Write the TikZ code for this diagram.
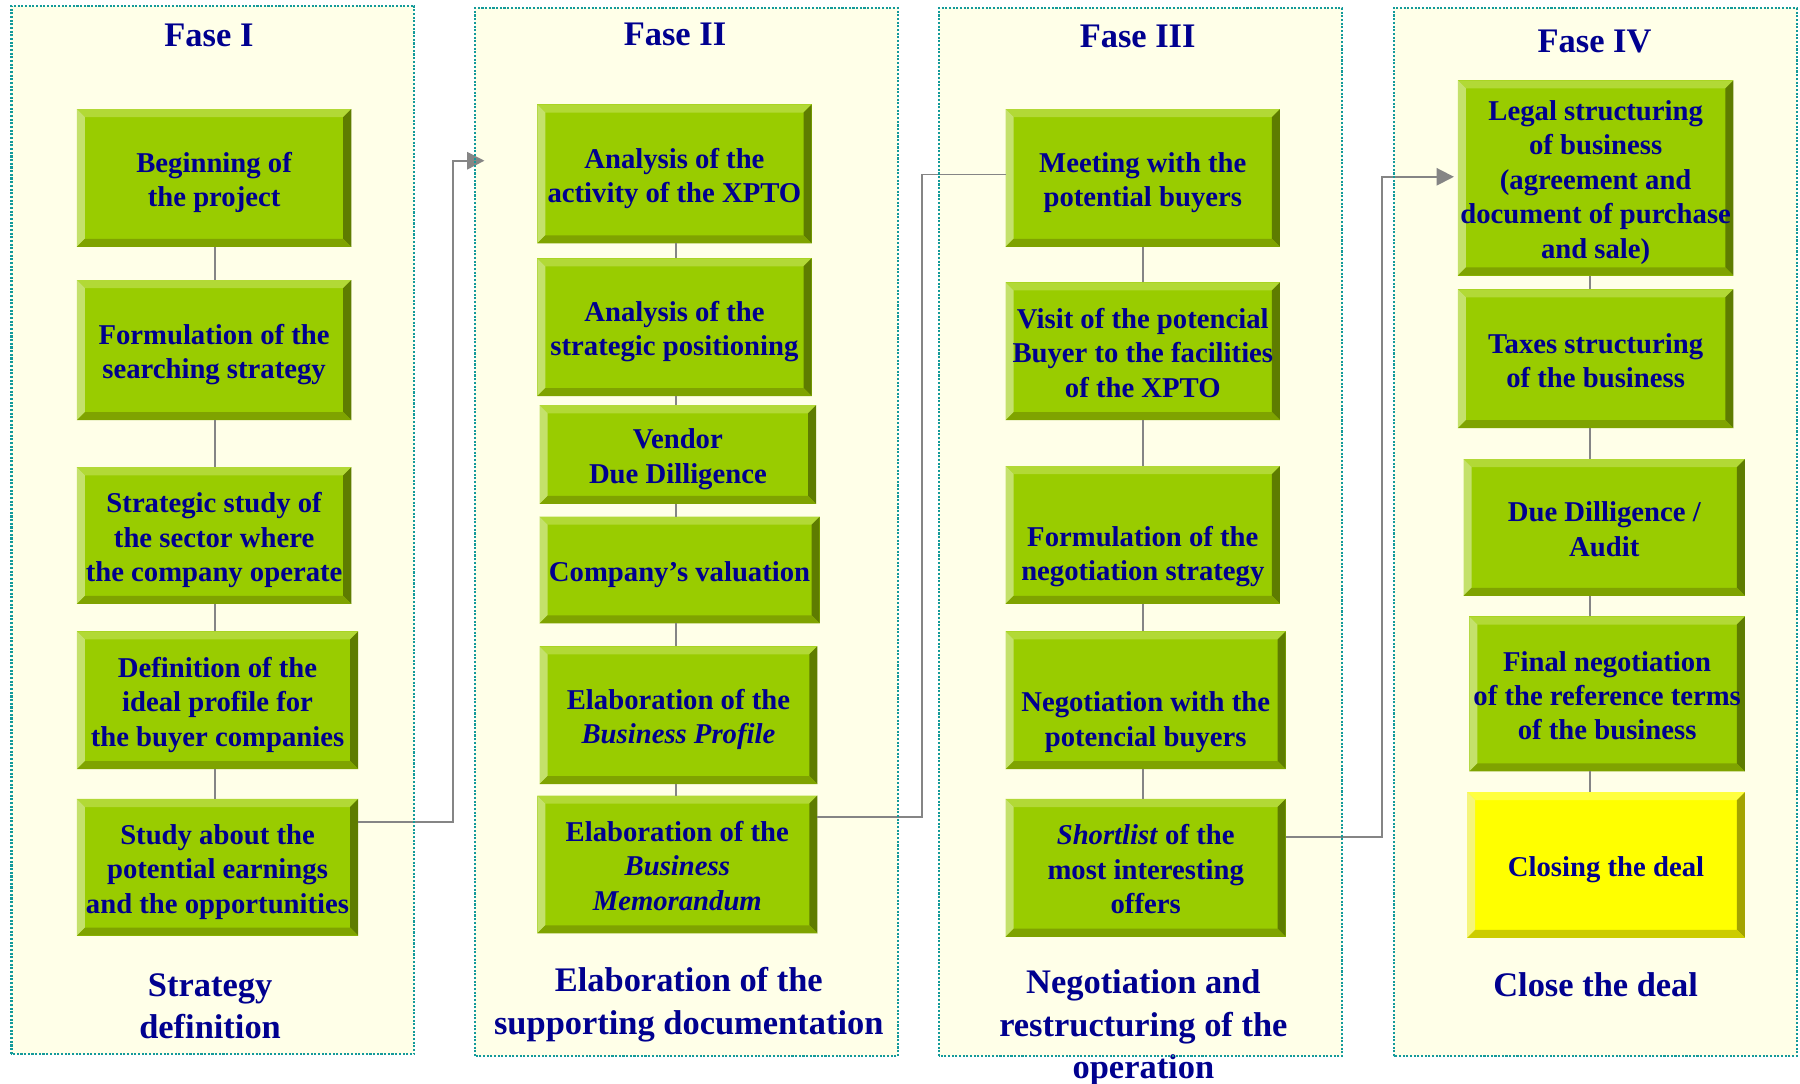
\documentclass[tikz,border=0pt]{standalone}
\usepackage{fontspec}
\setmainfont{Liberation Serif}
\usetikzlibrary{arrows.meta}
\definecolor{phasefill}{HTML}{FFFFE8}
\definecolor{phaseborder}{HTML}{139A9A}
\definecolor{navy}{HTML}{00008F}
\definecolor{conngray}{HTML}{858585}
\definecolor{gface}{HTML}{99CC00}
\definecolor{gtop}{HTML}{B2D936}
\definecolor{gleft}{HTML}{C4E16B}
\definecolor{gright}{HTML}{5E7C00}
\definecolor{gbot}{HTML}{7FA300}
\definecolor{yface}{HTML}{FFFF00}
\definecolor{ytop}{HTML}{FFFF40}
\definecolor{yleft}{HTML}{F5F57A}
\definecolor{yright}{HTML}{A3A300}
\definecolor{ybot}{HTML}{CCCC00}
\newcommand\bxfont{\fontsize{12.5}{15}\selectfont\bfseries}
\newcommand\phfont{\fontsize{15}{18.5}\selectfont\bfseries}
\newcommand\bevfill[4]{%
\fill[#1] (path picture bounding box.north west) -- (path picture bounding box.north east) -- ([shift={(-3.5pt,-3.5pt)}]path picture bounding box.north east) -- ([shift={(3.5pt,-3.5pt)}]path picture bounding box.north west) -- cycle;
\fill[#2] (path picture bounding box.north west) -- ([shift={(3.5pt,-3.5pt)}]path picture bounding box.north west) -- ([shift={(3.5pt,3.5pt)}]path picture bounding box.south west) -- (path picture bounding box.south west) -- cycle;
\fill[#3] (path picture bounding box.north east) -- (path picture bounding box.south east) -- ([shift={(-3.5pt,3.5pt)}]path picture bounding box.south east) -- ([shift={(-3.5pt,-3.5pt)}]path picture bounding box.north east) -- cycle;
\fill[#4] (path picture bounding box.south west) -- (path picture bounding box.south east) -- ([shift={(-3.5pt,3.5pt)}]path picture bounding box.south east) -- ([shift={(3.5pt,3.5pt)}]path picture bounding box.south west) -- cycle;}
\tikzset{
  phase/.style={fill=phasefill, inner sep=0pt, outer sep=0pt},
  phaseline/.style={draw=phaseborder, line width=0.9pt, dash pattern=on 0.9pt off 0.7pt},
  gbox/.style={fill=gface, inner sep=0pt, outer sep=0pt, text=navy, font=\bxfont,
    path picture={\bevfill{gtop}{gleft}{gright}{gbot}}},
  ybox/.style={fill=yface, inner sep=0pt, outer sep=0pt, text=navy, font=\bxfont,
    path picture={\bevfill{ytop}{yleft}{yright}{ybot}}},
  conn/.style={draw=conngray, line width=0.8pt},
  arr/.style={conn, -{Triangle[length=7.5pt,width=7.5pt]}},
  ttl/.style={text=navy, font=\phfont, align=center, inner sep=0pt},
}
\newcommand\bx[7]{\node[#6, minimum width={(#4-#2)*0.5pt}, minimum height={(#5-#3)*0.5pt}] (#1) at ({(#2+#4)/2},{(#3+#5)/2}) {\raisebox{-2pt}[\height][\depth]{\begin{tabular}{@{}c@{}}#7\end{tabular}}};}
\begin{document}
\begin{tikzpicture}[x=0.5pt,y=-0.5pt]
\useasboundingbox (0,0) rectangle (1568,944);
\fill[white] (0,0) rectangle (1568,944);
% phase containers
\node[phase, minimum width=175.5pt, minimum height=456.5pt] (ph1) at (185.5,461.5) {};
\node[phase, minimum width=184pt, minimum height=456.5pt] (ph2) at (598,463.5) {};
\node[phase, minimum width=175.5pt, minimum height=456.5pt] (ph3) at (993.5,463.5) {};
\node[phase, minimum width=175.5pt, minimum height=456.5pt] (ph4) at (1389.5,463.5) {};
% titles
\node[ttl] (t1) at (182,31) {Fase I};
\node[ttl] (t2) at (588,30) {Fase II};
\node[ttl] (t3) at (991,32) {Fase III};
\node[ttl] (t4) at (1389,36) {Fase IV};
% footers
\node[ttl] (f1) at (183,876.5) {Strategy\\definition};
\node[ttl] (f2) at (600,875) {Elaboration of the\\supporting documentation};
\node[ttl] (f3) at (996,895.5) {Negotiation and\\restructuring of the\\operation};
\node[ttl] (f4) at (1390,858) {Close the deal};
% boxes
\bx{p1b1}{67}{95}{306}{215}{gbox}{Beginning of\\the project}
\bx{p1b2}{67}{244}{306}{366}{gbox}{Formulation of the\\searching strategy}
\bx{p1b3}{67}{407}{306}{526}{gbox}{Strategic study of\\the sector where\\the company operate}
\bx{p1b4}{67}{550}{312}{670}{gbox}{Definition of the\\ideal profile for\\the buyer companies}
\bx{p1b5}{67}{696}{312}{815}{gbox}{Study about the\\potential earnings\\and the opportunities}
\bx{p2b1}{468}{91}{707}{212}{gbox}{Analysis of the\\activity of the XPTO}
\bx{p2b2}{468}{225}{707}{345}{gbox}{Analysis of the\\strategic positioning}
\bx{p2b3}{470}{353}{711}{439}{gbox}{Vendor\\Due Dilligence}
\bx{p2b4}{470}{450}{714}{543}{gbox}{Company’s valuation}
\bx{p2b5}{470}{563}{712}{683}{gbox}{Elaboration of the\\\textit{Business Profile}}
\bx{p2b6}{468}{693}{712}{813}{gbox}{Elaboration of the\\\textit{Business}\\\textit{Memorandum}}
\bx{p3b1}{876}{95}{1115}{215}{gbox}{Meeting with the\\potential buyers}
\bx{p3b2}{876}{246}{1115}{366}{gbox}{Visit of the potencial\\Buyer to the facilities\\of the XPTO}
\bx{p3b3}{876}{406}{1115}{526}{gbox}{\\Formulation of the\\negotiation strategy}
\bx{p3b4}{876}{550}{1120}{670}{gbox}{\\Negotiation with the\\potencial buyers}
\bx{p3b5}{876}{696}{1120}{816}{gbox}{\textit{Shortlist} of the\\most interesting\\offers}
\bx{p4b1}{1270}{70}{1510}{240}{gbox}{Legal structuring\\of business\\(agreement and\\document of purchase\\and sale)}
\bx{p4b2}{1270}{252}{1510}{373}{gbox}{Taxes structuring\\of the business}
\bx{p4b3}{1275}{400}{1520}{519}{gbox}{Due Dilligence /\\Audit}
\bx{p4b4}{1280}{537}{1520}{672}{gbox}{Final negotiation\\of the reference terms\\of the business}
\bx{p4b5}{1278}{690}{1520}{817}{ybox}{Closing the deal}
% spines
\coordinate (sp1) at (187.5,0);
\coordinate (sp2) at (589,0);
\coordinate (sp3) at (996,0);
\coordinate (sp4) at (1385,0);
\foreach \a/\b in {p1b1/p1b2,p1b2/p1b3,p1b3/p1b4,p1b4/p1b5}{\draw[conn] (\a.south -| sp1) -- (\b.north -| sp1);}
\foreach \a/\b in {p2b1/p2b2,p2b2/p2b3,p2b3/p2b4,p2b4/p2b5,p2b5/p2b6}{\draw[conn] (\a.south -| sp2) -- (\b.north -| sp2);}
\foreach \a/\b in {p3b1/p3b2,p3b2/p3b3,p3b3/p3b4,p3b4/p3b5}{\draw[conn] (\a.south -| sp3) -- (\b.north -| sp3);}
\foreach \a/\b in {p4b1/p4b2,p4b2/p4b3,p4b3/p4b4,p4b4/p4b5}{\draw[conn] (\a.south -| sp4) -- (\b.north -| sp4);}
% phase-to-phase connectors
\coordinate (s1) at ([yshift=19.75pt]p1b5.east);
\coordinate (j1) at (394.5,140);
\coordinate (e1) at (422,140);
\draw[arr] (s1) -| (j1) -- (e1);
\coordinate (s2) at ([yshift=20.5pt]p2b6.east);
\coordinate (e2) at ([yshift=1.5pt]p3b1.west);
\coordinate (j2) at (803,0);
\draw[conn] (s2) -| (j2 |- e2) -- (e2);
\coordinate (s3) at ([yshift=13.5pt]p3b5.east);
\coordinate (e3) at ([shift={(-1.75pt,0.5pt)}]p4b1.west);
\coordinate (j3) at (1203.5,0);
\draw[arr] (s3) -| (j3 |- e3) -- (e3);
% container borders on top
\foreach \p in {ph1,ph2,ph3,ph4}{\draw[phaseline] (\p.south west) rectangle (\p.north east);}
\end{tikzpicture}
\end{document}
